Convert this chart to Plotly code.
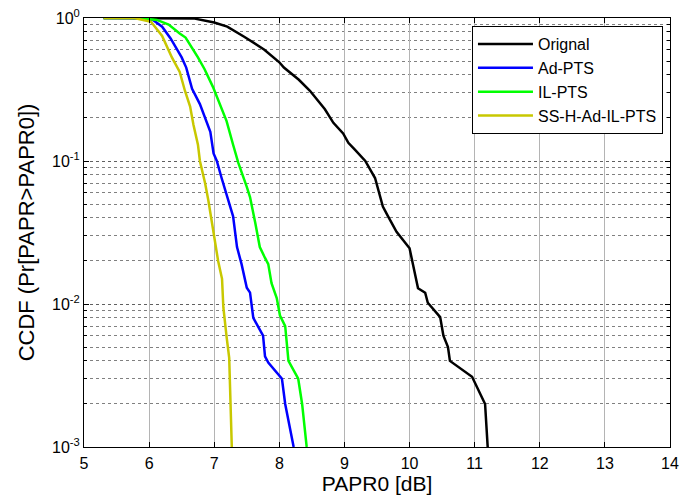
import plotly.graph_objects as go

# Original
orig_x = [5.3, 6.5, 6.7, 7.0, 7.2, 7.46, 7.77, 8.0, 8.07, 8.3, 8.47, 8.7, 8.83, 8.98, 9.06, 9.16, 9.32, 9.47, 9.52, 9.59, 9.67, 9.8, 10.0, 10.05, 10.1, 10.13, 10.24, 10.28, 10.47, 10.52, 10.59, 10.62, 10.96, 11.16, 11.2]
orig_y = [1.0, 1.0, 0.99, 0.93, 0.87, 0.74, 0.6, 0.49, 0.45, 0.37, 0.31, 0.23, 0.185, 0.156, 0.134, 0.12, 0.1, 0.076, 0.063, 0.048, 0.041, 0.032, 0.0245, 0.019, 0.015, 0.0129, 0.012, 0.0102, 0.0081, 0.006, 0.005, 0.004, 0.0031, 0.002, 0.001]

# Ad-PTS
ad_x = [5.3, 5.75, 6.06, 6.2, 6.33, 6.5, 6.57, 6.66, 6.78, 6.86, 6.94, 6.99, 7.04, 7.11, 7.21, 7.29, 7.35, 7.42, 7.5, 7.55, 7.6, 7.75, 7.78, 7.83, 8.04, 8.09, 8.22]
ad_y = [1.0, 1.0, 0.97, 0.87, 0.72, 0.53, 0.45, 0.32, 0.25, 0.2, 0.16, 0.113, 0.1, 0.077, 0.053, 0.041, 0.025, 0.019, 0.013, 0.012, 0.008, 0.006, 0.0043, 0.0039, 0.003, 0.002, 0.001]

# IL-PTS
il_x = [5.3, 5.8, 6.12, 6.3, 6.47, 6.56, 6.75, 6.85, 6.98, 7.09, 7.19, 7.29, 7.37, 7.5, 7.55, 7.63, 7.7, 7.78, 7.83, 7.88, 7.96, 8.01, 8.09, 8.14, 8.29, 8.35, 8.42]
il_y = [1.0, 1.0, 0.97, 0.9, 0.78, 0.73, 0.53, 0.44, 0.33, 0.25, 0.19, 0.13, 0.097, 0.066, 0.056, 0.037, 0.025, 0.021, 0.019, 0.014, 0.011, 0.0083, 0.007, 0.004, 0.003, 0.002, 0.001]

# SS-H-Ad-IL-PTS
ss_x = [5.3, 5.77, 6.03, 6.2, 6.35, 6.43, 6.47, 6.55, 6.63, 6.68, 6.75, 6.78, 6.86, 6.91, 6.99, 7.03, 7.06, 7.12, 7.14, 7.19, 7.23, 7.27]
ss_y = [1.0, 1.0, 0.94, 0.75, 0.53, 0.45, 0.42, 0.31, 0.24, 0.18, 0.13, 0.1, 0.07, 0.053, 0.031, 0.025, 0.02, 0.015, 0.0095, 0.0059, 0.0042, 0.001]

x_ticks = [5, 6, 7, 8, 9, 10, 11, 12, 13, 14]
y_ticks = [1e-3, 1e-2, 1e-1, 1]
y_ticktext = ["10<sup>-3</sup>", "10<sup>-2</sup>", "10<sup>-1</sup>", "10<sup>0</sup>"]
y_minor = [m * 10 ** e for e in (-3, -2, -1) for m in range(2, 10)]

series = [
    ("Orignal", orig_x, orig_y, "#000000"),
    ("Ad-PTS", ad_x, ad_y, "#0000ff"),
    ("IL-PTS", il_x, il_y, "#00ff00"),
    ("SS-H-Ad-IL-PTS", ss_x, ss_y, "#c8c800"),
]

fig = go.Figure()
for name, xs, ys, col in series:
    fig.add_trace(go.Scatter(x=xs, y=ys, mode="lines", name=name,
                             line=dict(color=col, width=2.5)))

font_family = "Liberation Sans"
fig.update_layout(
    width=686, height=488,
    margin=dict(l=76, r=24, t=10, b=49),
    paper_bgcolor="white", plot_bgcolor="white",
    font=dict(family=font_family, color="black", size=16),
    showlegend=True,
    legend=dict(x=0.988, y=0.981, xanchor="right", yanchor="top",
                bgcolor="white", bordercolor="black", borderwidth=1,
                font=dict(size=16, family=font_family), itemwidth=55,
                tracegroupgap=0),
)
fig.update_xaxes(
    range=[5, 14], tickvals=x_ticks, ticks="inside", ticklen=5,
    tickcolor="black", showline=True, linecolor="black", linewidth=1,
    mirror="allticks", showgrid=True, gridcolor="#b4b4b4", gridwidth=1,
    zeroline=False, tickfont=dict(size=16, family=font_family), automargin=False,
    ticklabelstandoff=2, ticklabeloverflow="allow",
    title=dict(text="PAPR0 [dB]", font=dict(size=21, family=font_family), standoff=3),
)
fig.update_yaxes(
    type="log", range=[-3, 0], tickvals=y_ticks, ticktext=y_ticktext,
    ticks="inside", ticklen=5, tickcolor="black", showline=True,
    linecolor="black", linewidth=1, mirror="allticks", showgrid=True,
    gridcolor="#606060", gridwidth=1, griddash="dot", zeroline=False,
    tickfont=dict(size=16, family=font_family), automargin=False,
    ticklabeloverflow="allow",
    minor=dict(tickvals=y_minor, ticks="inside", ticklen=3, tickcolor="black",
               showgrid=True, gridcolor="#808080", gridwidth=1, griddash="dot"),
    title=dict(text="CCDF (Pr[PAPR>PAPR0])", font=dict(size=22, family=font_family), standoff=11),
)

fig.write_html("out.html")
